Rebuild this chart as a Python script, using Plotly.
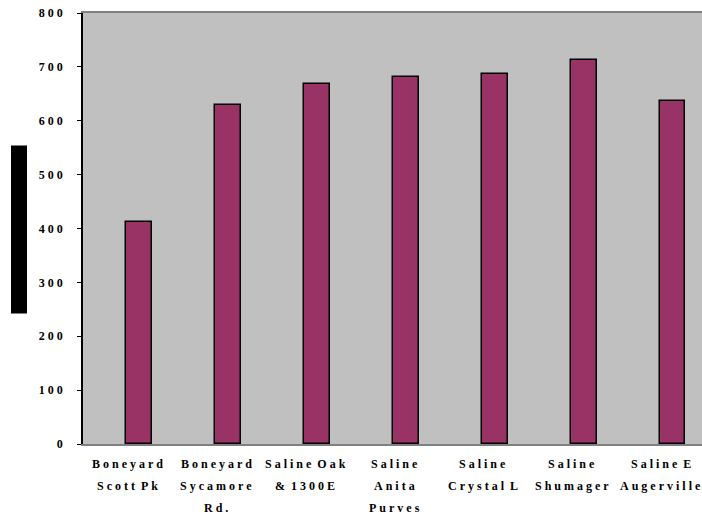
import plotly.graph_objects as go

categories = [
    ["Boneyard", "Scott Pk"],
    ["Boneyard", "Sycamore", "Rd."],
    ["Saline Oak", "& 1300E"],
    ["Saline", "Anita", "Purves"],
    ["Saline", "Crystal L"],
    ["Saline", "Shumager"],
    ["Saline E", "Augerville"],
]
values = [412, 629, 668, 682, 687, 713, 637]
y_ticks = [0, 100, 200, 300, 400, 500, 600, 700, 800]

FONT = "Liberation Serif"
NB = "\u00a0"


def spaced(s):
    # mimic the wide letter spacing of the original rendering
    out = []
    for w in s.split(" "):
        out.append(NB.join(w))
    return (NB * 2).join(out)


x = list(range(len(values)))

fig = go.Figure()
fig.add_trace(go.Bar(
    x=x, y=values,
    width=0.292, offset=-0.012,
    marker=dict(color="#993366", line=dict(color="#000000", width=1.5)),
    hoverinfo="y",
))

annotations = []
shifts = [-19.5, -41.5, -63.5]
for i, lines in enumerate(categories):
    for j, line in enumerate(lines):
        annotations.append(dict(
            x=i, xref="x", y=0, yref="paper",
            text="<b>" + spaced(line) + "</b>", showarrow=False,
            xanchor="center", yanchor="middle", yshift=shifts[j],
            font=dict(family=FONT, size=12, color="#000000"),
        ))

fig.update_layout(
    width=702, height=518,
    margin=dict(l=83, r=0, t=13, b=74),
    paper_bgcolor="#FFFFFF",
    plot_bgcolor="#C0C0C0",
    showlegend=False,
    bargap=0,
    annotations=annotations,
    shapes=[dict(type="rect", xref="paper", yref="paper",
                 x0=(11 - 83) / 619, x1=(27 - 83) / 619,
                 y0=(443.5 - 313) / 431, y1=(443.5 - 145) / 431,
                 fillcolor="#000000", line=dict(width=0))],
    xaxis=dict(
        range=[-0.5, 6.466], showticklabels=False, ticks="",
        showgrid=False, zeroline=False,
        showline=True, linecolor="#808080", linewidth=1.5, mirror=True,
    ),
    yaxis=dict(
        range=[0, 800], tickvals=y_ticks,
        ticktext=["<b>" + spaced(str(v)) + "</b>" for v in y_ticks],
        ticks="outside", ticklen=4, tickcolor="#000000", tickwidth=1,
        ticklabelstandoff=12,
        showgrid=False, zeroline=False,
        showline=True, linecolor="#000000", linewidth=1.5,
        tickfont=dict(family=FONT, size=12, color="#000000"),
    ),
)

fig.write_html("out.html")
